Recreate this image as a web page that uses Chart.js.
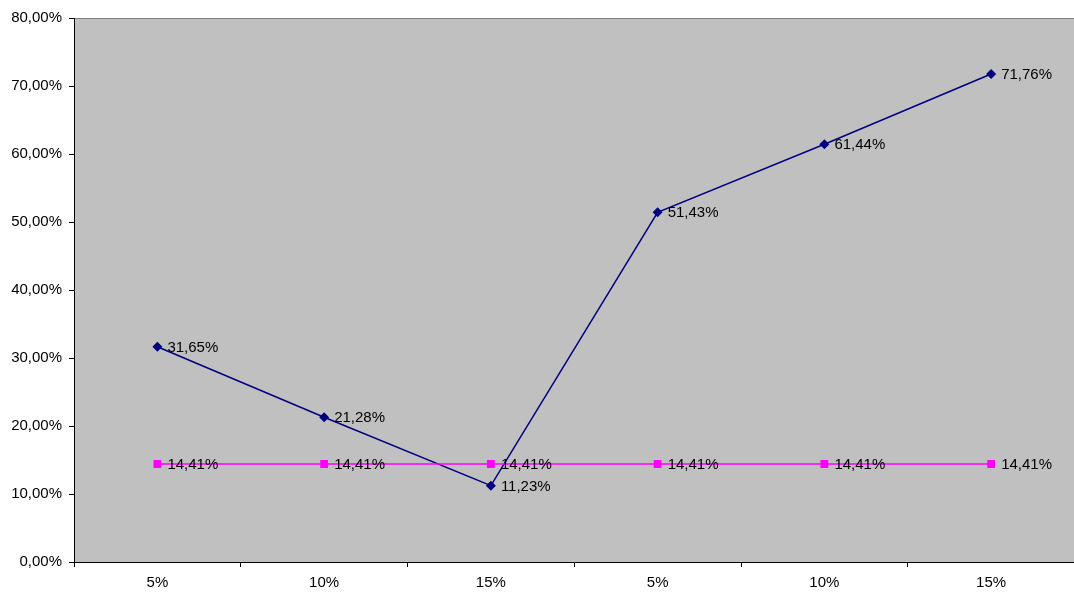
<!DOCTYPE html>
<html>
<head>
<meta charset="utf-8">
<script src="https://cdn.jsdelivr.net/npm/chart.js@4.4.0/dist/chart.umd.min.js"></script>
<style>
  html, body { margin: 0; padding: 0; background: #ffffff; overflow: hidden; }
  #wrap { width: 1080px; height: 596px; }
</style>
</head>
<body>
<div id="wrap"><canvas id="chart"></canvas></div>
<script>
const categories = ['5%', '10%', '15%', '5%', '10%', '15%'];
const seriesMain = [31.65, 21.28, 11.23, 51.43, 61.44, 71.76];
const seriesRef = [14.41, 14.41, 14.41, 14.41, 14.41, 14.41];

const fmt = v => v.toFixed(2).replace('.', ',') + '%';
const FONT = '"Liberation Sans", Arial, sans-serif';

// gray fill behind the plot area
const plotBackground = {
    id: 'plotBackground',
    beforeDraw(chart) {
        const { ctx, chartArea: a } = chart;
        ctx.save();
        ctx.fillStyle = '#c0c0c0';
        ctx.fillRect(a.left, a.top, a.right - a.left, a.bottom - a.top);
        ctx.strokeStyle = '#808080';
        ctx.lineWidth = 1;
        ctx.beginPath();
        ctx.moveTo(a.left, a.top + 0.5);
        ctx.lineTo(a.right, a.top + 0.5);
        ctx.stroke();
        ctx.restore();
    }
};

// value labels to the right of every point
const pointLabels = {
    id: 'pointLabels',
    afterDatasetsDraw(chart) {
        const { ctx } = chart;
        ctx.save();
        ctx.font = '15px ' + FONT;
        ctx.fillStyle = '#000000';
        ctx.textAlign = 'left';
        ctx.textBaseline = 'middle';
        chart.data.datasets.forEach((ds, i) => {
            chart.getDatasetMeta(i).data.forEach((pt, j) => {
                ctx.fillText(fmt(ds.data[j]), pt.x + 10, pt.y + 1);
            });
        });
        ctx.restore();
    }
};

Chart.defaults.font.family = FONT;
Chart.defaults.font.size = 15;
Chart.defaults.color = '#000000';

new Chart(document.getElementById('chart'), {
    type: 'line',
    data: {
        labels: categories,
        datasets: [
            {
                data: seriesRef,
                borderColor: '#ff00ff',
                backgroundColor: '#ff00ff',
                borderWidth: 1.5,
                pointStyle: 'rect',
                pointRadius: 5.5,
                pointBorderWidth: 0,
                tension: 0
            },
            {
                data: seriesMain,
                borderColor: '#000080',
                backgroundColor: '#000080',
                borderWidth: 1.5,
                pointStyle: 'rectRot',
                pointRadius: 5,
                pointBorderWidth: 0,
                tension: 0
            }
        ]
    },
    options: {
        responsive: true,
        maintainAspectRatio: false,
        animation: false,
        layout: { padding: { top: 18, right: 0, left: 0, bottom: 0 } },
        plugins: {
            legend: { display: false },
            tooltip: { enabled: false }
        },
        scales: {
            x: {
                offset: true,
                grid: {
                    offset: true,
                    drawOnChartArea: false,
                    drawTicks: true,
                    tickLength: 5,
                    color: '#000000'
                },
                border: { color: '#000000', width: 1 },
                ticks: { padding: 7, maxRotation: 0 },
                afterFit(scale) { scale.height = 34; }
            },
            y: {
                min: 0,
                max: 80,
                grid: {
                    drawOnChartArea: false,
                    drawTicks: true,
                    tickLength: 5,
                    color: '#000000'
                },
                border: { color: '#000000', width: 1 },
                ticks: {
                    stepSize: 10,
                    padding: 7,
                    callback: v => fmt(v)
                },
                afterFit(scale) { scale.width = 74; }
            }
        }
    },
    plugins: [plotBackground, pointLabels]
});
</script>
</body>
</html>
